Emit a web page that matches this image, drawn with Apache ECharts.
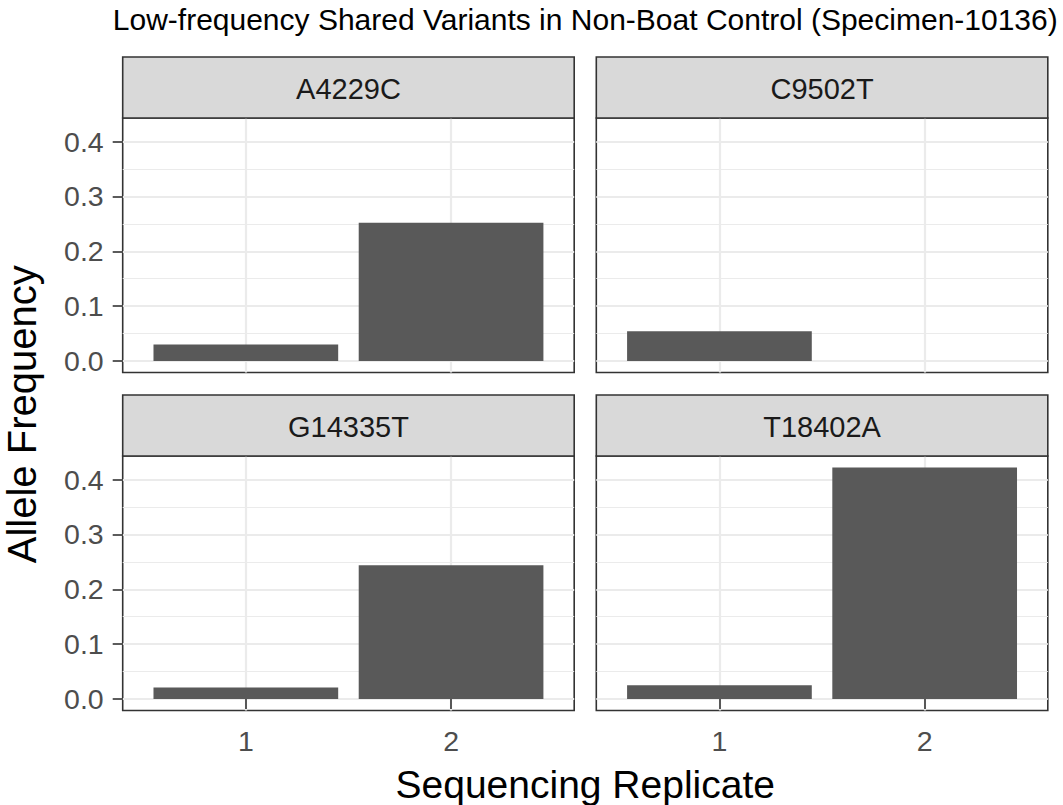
<!DOCTYPE html>
<html><head><meta charset="utf-8">
<script src="https://cdn.jsdelivr.net/npm/echarts@6/dist/echarts.min.js"></script>
<style>html,body{margin:0;padding:0;background:#fff}#c{width:1063px;height:805px}</style>
</head><body><div id="c"></div>
<script>
// ---- data ----
const chartTitle = 'Low-frequency Shared Variants in Non-Boat Control (Specimen-10136)';
const xAxisTitle = 'Sequencing Replicate';
const yAxisTitle = 'Allele Frequency';
const variants = ['A4229C', 'C9502T', 'G14335T', 'T18402A'];
const replicates = [1, 2];
const freqA4229C = [0.030, 0.252];
const freqC9502T = [0.054, null];
const freqG14335T = [0.021, 0.244];
const freqT18402A = [0.025, 0.422];
const yTicks = [0, 0.1, 0.2, 0.3, 0.4];
const yMinorTicks = [0.05, 0.15, 0.25, 0.35];
const xTicks = [1, 2];

// ---- layout ----
const FONT = '"Liberation Sans", Arial, Helvetica, sans-serif';
const freqs = [freqA4229C, freqC9502T, freqG14335T, freqT18402A];
const allVals = [].concat(...freqs).filter(v => v != null);
const dMax = Math.max(...allVals), dMin = Math.min(0, ...allVals);
const span = dMax - dMin;
const yMin = dMin - 0.05 * span, yMax = dMax + 0.05 * span;
const xMin = 0.4, xMax = 2.6;

const colLeft = [122.7, 596.3];
const stripTop = [57, 395];
const stripH = 61;
const panelW = 451.5;
const plotH = 254.5;

const grids = [], xAxes = [], yAxes = [], series = [], graphics = [];
variants.forEach((name, i) => {
  const col = i % 2, row = Math.floor(i / 2);
  const left = colLeft[col];
  const sTop = stripTop[row];
  const pTop = sTop + stripH;
  grids.push({left: left, top: pTop, width: panelW, height: plotH, show: true,
    borderColor: '#333333', borderWidth: 1.6, backgroundColor: '#ffffff', containLabel: false});
  const bottomRow = row === 1, leftCol = col === 0;
  xAxes.push({gridIndex: i, type: 'value', min: xMin, max: xMax,
    axisLine: {show: false},
    axisTick: {show: bottomRow, customValues: xTicks, length: 10, lineStyle: {color: '#333333', width: 1.6}},
    axisLabel: {show: bottomRow, customValues: xTicks, margin: 16, color: '#4d4d4d', fontSize: 28.5, fontFamily: FONT},
    splitLine: {show: true, lineStyle: {color: '#ebebeb', width: 2.2}}
  });
  yAxes.push({gridIndex: i, type: 'value', min: yMin, max: yMax,
    axisLine: {show: false},
    axisTick: {show: leftCol, customValues: yTicks, length: 10, lineStyle: {color: '#333333', width: 1.6}},
    axisLabel: {show: leftCol, customValues: yTicks, margin: 19, color: '#4d4d4d', fontSize: 28.5, fontFamily: FONT,
      formatter: v => Number(v).toFixed(1)},
    splitLine: {show: true, lineStyle: {color: '#ebebeb', width: 2.2}}
  });
  const majorIdx = yAxes.length - 1;
  yAxes.push({gridIndex: i, type: 'value', min: yMin, max: yMax,
    axisLine: {show: false},
    axisTick: {show: false, customValues: yMinorTicks},
    axisLabel: {show: false, customValues: yMinorTicks},
    splitLine: {show: true, lineStyle: {color: '#ebebeb', width: 1.1}}
  });
  series.push({type: 'bar', xAxisIndex: i, yAxisIndex: majorIdx, barWidth: '90%',
    itemStyle: {color: '#595959'}, silent: true, animation: false,
    data: replicates.map((r, k) => [r, freqs[i][k]])});
  // strip
  graphics.push({type: 'rect', shape: {x: left, y: sTop, width: panelW, height: stripH},
    style: {fill: '#d9d9d9', stroke: '#333333', lineWidth: 1.6}, z: 10});
  graphics.push({type: 'text', x: left + panelW / 2, y: sTop + stripH / 2 + 1, z: 11,
    style: {text: name, fill: '#1a1a1a', fontSize: 29, fontFamily: FONT, textAlign: 'center', textVerticalAlign: 'middle'}});
});

const panelsCenterX = (colLeft[0] + colLeft[1] + panelW) / 2;
graphics.push({type: 'text', x: panelsCenterX, y: 19, z: 11,
  style: {text: chartTitle, fill: '#000000', fontSize: 30, fontFamily: FONT, textAlign: 'center', textVerticalAlign: 'middle'}});
graphics.push({type: 'text', x: panelsCenterX, y: 784, z: 11,
  style: {text: xAxisTitle, fill: '#000000', fontSize: 39, fontFamily: FONT, textAlign: 'center', textVerticalAlign: 'middle'}});
graphics.push({type: 'text', x: 22, y: (stripTop[0] + stripH + stripTop[1] + stripH + plotH) / 2, rotation: Math.PI / 2, z: 11,
  style: {text: yAxisTitle, fill: '#000000', fontSize: 40, fontFamily: FONT, textAlign: 'center', textVerticalAlign: 'middle'}});

const chart = echarts.init(document.getElementById('c'), null, {renderer: 'svg'});
chart.setOption({
  animation: false,
  backgroundColor: '#ffffff',
  grid: grids, xAxis: xAxes, yAxis: yAxes, series: series, graphic: graphics
});
</script></body></html>
